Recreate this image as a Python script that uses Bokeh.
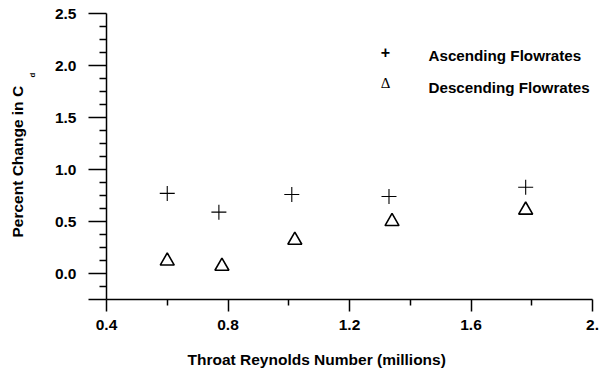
from bokeh.plotting import figure
from bokeh.models import FixedTicker, Label, Range1d, Title
from bokeh.embed import file_html
from bokeh.resources import INLINE

# ---- data ----
asc_re = [0.60, 0.77, 1.01, 1.33, 1.78]
asc_pct = [0.77, 0.59, 0.76, 0.74, 0.83]
desc_re = [0.60, 0.78, 1.02, 1.34, 1.78]
desc_pct = [0.12, 0.07, 0.32, 0.50, 0.61]
series_names = ["Ascending Flowrates", "Descending Flowrates"]
series_symbols = ["+", "\u0394"]

x_ticks = [0.4, 0.8, 1.2, 1.6, 2.0]
x_tick_labels = ["0.4", "0.8", "1.2", "1.6", "2."]
x_minor = [0.6, 1.0, 1.4, 1.8]
y_ticks = [-0.25, 0.0, 0.5, 1.0, 1.5, 2.0, 2.5]
y_tick_labels = ["", "0.0", "0.5", "1.0", "1.5", "2.0", "2.5"]
y_minor = [-0.125, 0.125, 0.25, 0.375, 0.625, 0.75, 0.875, 1.125, 1.25, 1.375,
           1.625, 1.75, 1.875, 2.125, 2.25, 2.375]

x_title = "Throat Reynolds Number (millions)"
y_title = "Percent Change in C"
y_title_sub = "d"

FONT = "Liberation Sans"

p = figure(width=604, height=368, output_backend="svg", toolbar_location=None,
           x_range=Range1d(0.4, 2.0), y_range=Range1d(-0.25, 2.5),
           min_border_left=106, min_border_right=12, min_border_top=13,
           min_border_bottom=69)
p.outline_line_color = None
p.grid.visible = False
p.background_fill_color = "white"
p.border_fill_color = "white"

# axes
xa = p.xaxis[0]
xa.ticker = FixedTicker(ticks=x_ticks, minor_ticks=x_minor)
xa.major_label_overrides = {t: l for t, l in zip(x_ticks, x_tick_labels)}
xa.major_tick_out = 12
xa.major_tick_in = 0
xa.minor_tick_out = 6
xa.minor_tick_in = 0
xa.major_label_standoff = 8
# blank spacer label to push the title panel down
xa.axis_label = " "
xa.axis_label_text_font_size = "1px"
xa.axis_label_standoff = 12

ya = p.yaxis[0]
ya.ticker = FixedTicker(ticks=y_ticks, minor_ticks=y_minor)
ya.major_label_overrides = {t: l for t, l in zip(y_ticks, y_tick_labels)}
ya.major_tick_out = 18
ya.major_tick_in = 0
ya.minor_tick_out = 7
ya.minor_tick_in = 0
ya.major_label_standoff = 12

for ax in (xa, ya):
    ax.axis_line_width = 1.5
    ax.major_tick_line_width = 1.5
    ax.minor_tick_line_width = 1.5
    ax.axis_line_color = "black"
    ax.major_tick_line_color = "black"
    ax.minor_tick_line_color = "black"
    ax.major_label_text_font = FONT
    ax.major_label_text_font_style = "bold"
    ax.major_label_text_font_size = "15.5px"
    ax.major_label_text_color = "black"

# data
p.scatter(asc_re, asc_pct, marker="cross", size=15, line_color="black",
          line_width=1.1)
p.scatter(desc_re, desc_pct, marker="triangle", size=14, fill_color=None,
          line_color="black", line_width=1.6)

# axis titles (side-panel titles so they are not clipped)
p.add_layout(Title(text=x_title, align="left", offset=81, standoff=0,
                   text_font=FONT, text_font_style="bold",
                   text_font_size="15.5px", text_color="black"), "below")
p.add_layout(Title(text=y_title_sub, align="right", offset=59, standoff=30,
                   text_font=FONT, text_font_style="bold",
                   text_font_size="8px", text_color="black"), "left")
p.add_layout(Title(text=y_title, align="left", offset=62, standoff=-30,
                   text_font=FONT, text_font_style="bold",
                   text_font_size="15.5px", text_color="black"), "left")

# legend (text style)
sym_y = [248, 216.5]
txt_y = [244, 212.3]
for i, (name, sym) in enumerate(zip(series_names, series_symbols)):
    p.add_layout(Label(x=279, y=sym_y[i], x_units="screen", y_units="screen",
                       text=sym, text_font=FONT if i == 0 else "Liberation Serif",
                       text_font_style="bold" if i == 0 else "normal",
                       text_font_size="16px" if i == 0 else "15px",
                       text_align="center", text_baseline="middle",
                       text_color="black"))
    p.add_layout(Label(x=322, y=txt_y[i], x_units="screen", y_units="screen",
                       text=name, text_font=FONT, text_font_style="bold",
                       text_font_size="15.2px", text_align="left",
                       text_baseline="alphabetic", text_color="black"))

open("out.html", "w").write(file_html(p, INLINE))
